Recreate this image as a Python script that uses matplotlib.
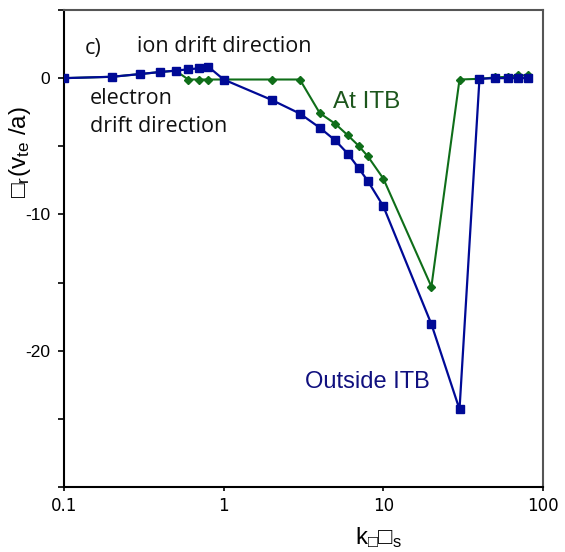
import matplotlib
matplotlib.use("Agg")
import matplotlib.pyplot as plt
from matplotlib.ticker import FixedLocator, NullLocator, FixedFormatter

plt.rcParams['font.family'] = ['Liberation Sans', 'DejaVu Sans']
plt.rcParams['mathtext.default'] = 'regular'

# Normalised wavenumber k_theta rho_s
k_theta_rho = [0.1, 0.2, 0.3, 0.4, 0.5, 0.6, 0.7, 0.8, 1.0, 2.0, 3.0, 4.0, 5.0,
               6.0, 7.0, 8.0, 10.0, 20.0, 30.0, 40.0, 50.0, 60.0, 70.0, 80.0]

# Linear growth rate outside the ITB
gamma_outside = [0.0, 0.1, 0.3, 0.45, 0.55, 0.65, 0.72, 0.84, -0.1, -1.6, -2.6, -3.64,
                 -4.57, -5.55, -6.6, -7.55, -9.4, -18.05, -24.3, -0.05, 0.0, 0.0, 0.0, 0.0]

# Linear growth rate at the ITB
gamma_itb = [0.0, 0.1, 0.3, 0.45, 0.55, -0.1, -0.1, -0.1, -0.1, -0.1, -0.1, -2.57,
             -3.35, -4.2, -4.96, -5.74, -7.37, -15.3, -0.1, -0.05, 0.05, 0.1, 0.2, 0.2]

y_ticks = [-30, -25, -20, -15, -10, -5, 0, 5]
y_tick_labels = ['', '', '-20', '', '-10', '', '0', '']
x_ticks = [0.1, 1, 10, 100]
x_tick_labels = ['0.1', '1', '10', '100']

blue = '#000a96'
green = '#0f6e19'

fig = plt.figure(figsize=(5.65, 5.52), dpi=100)
ax = fig.add_axes([64 / 565, 1 - 487 / 552, (543 - 64) / 565, (487 - 10) / 552])

ax.plot(k_theta_rho, gamma_itb, color=green, lw=1.5, marker='D', ms=4.0,
        mfc=green, mec=green, zorder=2)
ax.plot(k_theta_rho, gamma_outside, color=blue, lw=1.6, marker='s', ms=6.0,
        mfc=blue, mec=blue, zorder=3)

ax.set_xscale('log')
ax.set_xlim(0.1, 100)
ax.set_ylim(-30, 5)

ax.xaxis.set_major_locator(FixedLocator(x_ticks))
ax.xaxis.set_major_formatter(FixedFormatter(x_tick_labels))
ax.xaxis.set_minor_locator(NullLocator())
ax.yaxis.set_major_locator(FixedLocator(y_ticks))
ax.yaxis.set_major_formatter(FixedFormatter(y_tick_labels))

ax.tick_params(axis='x', direction='out', length=3, width=1.2, pad=4,
               labelsize=12)
for lab in ax.get_xticklabels():
    lab.set_fontfamily('DejaVu Sans')
ax.tick_params(axis='y', direction='out', length=4, width=1.2, pad=6,
               labelsize=12.5)

for side in ('left', 'bottom'):
    ax.spines[side].set_color('black')
    ax.spines[side].set_linewidth(1.5)
for side in ('top', 'right'):
    ax.spines[side].set_color('#555555')
    ax.spines[side].set_linewidth(1.5)

# Annotations inside the axes
ann = dict(transform=fig.transFigure, family=['Open Sans', 'DejaVu Sans'],
           fontsize=15.5, color='#111111')
fig.text(85 / 565, 1 - 54 / 552, 'c)', **ann)
fig.text(137 / 565, 1 - 52 / 552, 'ion drift direction', **ann)
fig.text(90 / 565, 1 - 104 / 552, 'electron', **ann)
fig.text(90 / 565, 1 - 132 / 552, 'drift direction', **ann)

fig.text(333 / 565, 1 - 108 / 552, 'At ITB', fontsize=17.5, color='#1c561c')
fig.text(305 / 565, 1 - 388 / 552, 'Outside ITB', fontsize=17, color='#10107f')

# Axis titles
fig.text(20 / 565, 1 - 152 / 552, '□$_r$(v$_{te}$ /a)', rotation=90,
         ha='center', va='center', fontsize=17.5)
fig.text(378 / 565, 1 - 538 / 552, 'k$_□$□$_s$', ha='center', va='center',
         fontsize=17)

fig.savefig('out.png', dpi=100)
